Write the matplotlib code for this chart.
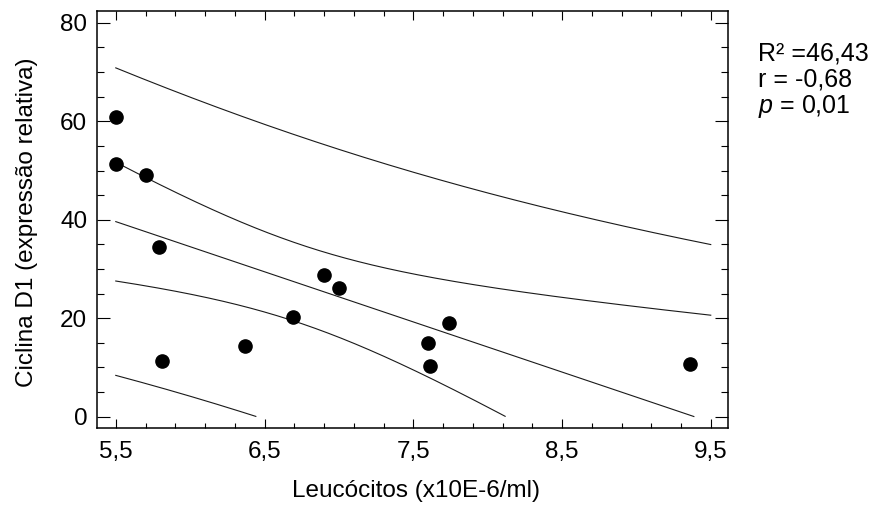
import matplotlib
matplotlib.use("Agg")
import matplotlib.pyplot as plt
import numpy as np
from matplotlib.ticker import MultipleLocator, FixedLocator, FixedFormatter

plt.rcParams['font.family'] = ['Liberation Sans', 'DejaVu Sans']
plt.rcParams['mathtext.fontset'] = 'custom'
plt.rcParams['mathtext.rm'] = 'Liberation Sans'
plt.rcParams['mathtext.it'] = 'Liberation Sans:italic'

# pontos
leucocitos = [5.50, 5.50, 5.70, 5.79, 5.81, 6.37, 6.69, 6.90, 7.00, 7.60, 7.61, 7.74, 9.36]
ciclina = [60.9, 51.3, 49.1, 34.4, 11.3, 14.3, 20.2, 28.8, 26.1, 15.0, 10.3, 19.0, 10.7]

xticks = [5.5, 6.5, 7.5, 8.5, 9.5]
xticklabels = ['5,5', '6,5', '7,5', '8,5', '9,5']
yticks = [0, 20, 40, 60, 80]
stats = ['R² =46,43', 'r = -0,68', '$p$ = 0,01']

x = np.array(leucocitos)
y = np.array(ciclina)
n = len(x)

# regressão linear + bandas de confiança e predição (95%)
b, a = np.polyfit(x, y, 1)
s = np.sqrt(np.sum((y - (a + b * x)) ** 2) / (n - 2))
sxx = np.sum((x - x.mean()) ** 2)
t = 2.201  # t(0.975, 11 gl)

xs = np.linspace(5.5, 9.5, 600)
fit = a + b * xs
ci = t * s * np.sqrt(1 / n + (xs - x.mean()) ** 2 / sxx)
pi = t * s * np.sqrt(1 + 1 / n + (xs - x.mean()) ** 2 / sxx)

fig = plt.figure(figsize=(8.82, 5.09), dpi=100)
ax = fig.add_axes([0.110, 0.1591, 0.7154, 0.8193])

for curve in [fit, fit + ci, fit - ci, fit + pi, fit - pi]:
    c = np.where(curve < 0, np.nan, curve)
    ax.plot(xs, c, color='#1a1a1a', lw=0.8)

ax.plot(x, y, 'o', color='black', ms=9.5, zorder=3)

ax.set_xlim(5.374, 9.616)
ax.set_ylim(-2.3, 82.4)

ax.xaxis.set_major_locator(FixedLocator(xticks))
ax.xaxis.set_major_formatter(FixedFormatter(xticklabels))
ax.xaxis.set_minor_locator(MultipleLocator(0.2, offset=0.1))
ax.yaxis.set_major_locator(FixedLocator(yticks))
ax.yaxis.set_minor_locator(MultipleLocator(5))

ax.tick_params(which='both', direction='in', top=True, right=True, width=0.8, labelsize=17.5, colors='black')
ax.tick_params(axis='x', which='major', length=6.5, pad=9)
ax.tick_params(axis='x', which='minor', length=3.6)
ax.tick_params(axis='y', which='major', length=9.5, pad=7)
ax.tick_params(axis='y', which='minor', length=5)

for sp in ax.spines.values():
    sp.set_linewidth(1.1)

ax.set_xlabel('Leucócitos (x10E-6/ml)', fontsize=17.5)
ax.set_ylabel('Ciclina D1 (expressão relativa)', fontsize=17.5)
ax.xaxis.set_label_coords(0.505, -0.124)
ax.yaxis.set_label_coords(-0.094, 0.493)

for i, txt in enumerate(stats):
    fig.text(758 / 882, 1 - (60 + 26.5 * i) / 509, txt, fontsize=18, ha='left', va='baseline')

fig.savefig('out.png', dpi=100)
